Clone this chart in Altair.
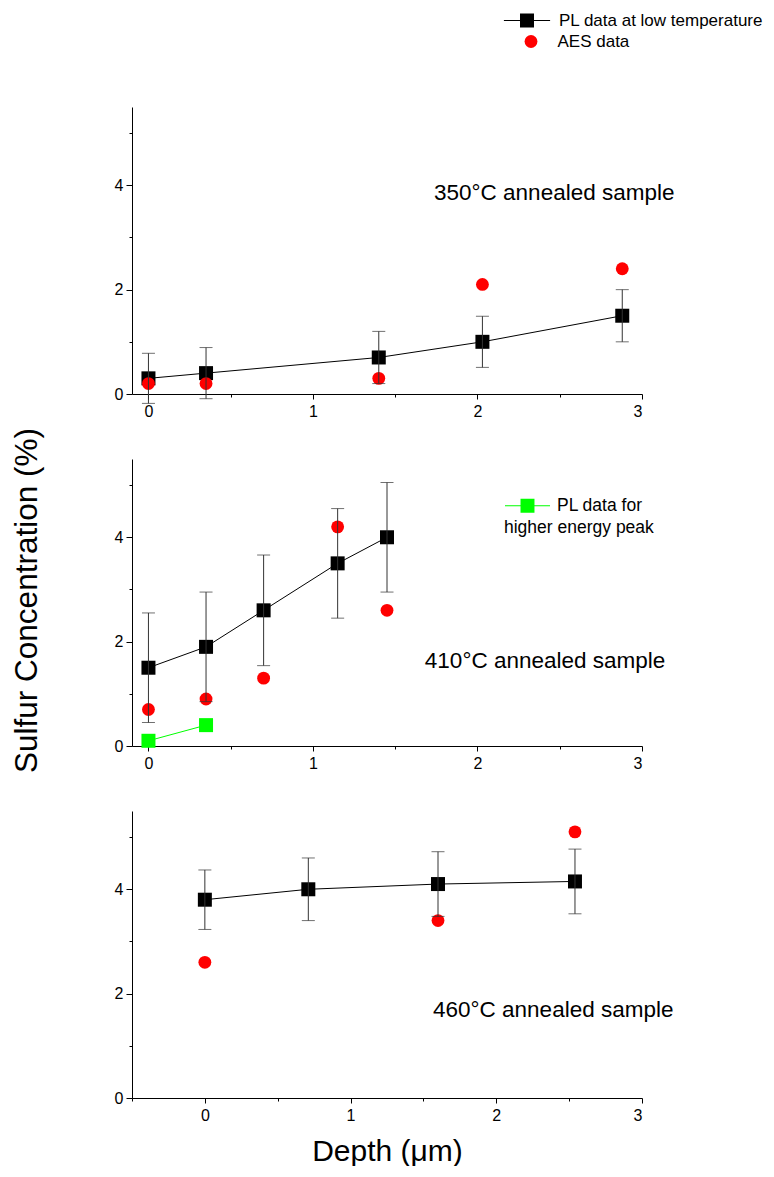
import altair as alt
import pandas as pd

FONT = "Liberation Sans"

PL_LABEL = "PL data at low temperature"
AES_LABEL = "AES data"
GREEN_LABEL = "PL data for"
GREEN_TITLE = "higher energy peak"
Y_TITLE = "Sulfur Concentration (%)"
X_TITLE = "Depth (\u03bcm)"

# Panel 1: 350 C annealed sample
p1_depth = [0.0, 0.35, 1.40, 2.03, 2.88]
p1_pl = [0.3, 0.4, 0.7, 1.0, 1.5]
p1_err = [0.48, 0.49, 0.50, 0.49, 0.50]
p1_aes = [0.2, 0.2, 0.3, 2.1, 2.4]

# Panel 2: 410 C annealed sample
p2_depth = [0.0, 0.35, 0.70, 1.15, 1.45]
p2_pl = [1.5, 1.9, 2.6, 3.5, 4.0]
p2_err = [1.05, 1.05, 1.06, 1.05, 1.05]
p2_aes = [0.7, 0.9, 1.3, 4.2, 2.6]
p2_hi_depth = [0.0, 0.35]
p2_hi_pl = [0.1, 0.4]

# Panel 3: 460 C annealed sample
p3_depth = [0.0, 0.71, 1.60, 2.54]
p3_pl = [3.8, 4.0, 4.1, 4.15]
p3_err = [0.57, 0.60, 0.62, 0.62]
p3_aes_depth = [0.0, 1.60, 2.54]
p3_aes = [2.6, 3.4, 5.1]

panel_labels = ["350\u00b0C annealed sample", "410\u00b0C annealed sample", "460\u00b0C annealed sample"]

x_major_1 = [0, 0.5, 1, 1.5, 2, 2.5, 3]
x_major_3 = [-0.5, 0, 0.5, 1, 1.5, 2, 2.5, 3]
y_ticks = [0, 1, 2, 3, 4, 5]

W, H = 510, 287

# legend symbols: line - square - line (drawn as filled shapes)
LINE_SQ = ("M-1.65,-0.04H-0.5V0.04H-1.65Z "
           "M-0.5,-0.5H0.5V0.5H-0.5Z "
           "M0.5,-0.04H1.65V0.04H0.5Z")
LINE_SQ_WIDE = ("M-1,-0.023H-0.31V0.023H-1Z "
                "M-0.31,-0.31H0.31V0.31H-0.31Z "
                "M0.31,-0.023H1V0.023H0.31Z")

axis_common = dict(
    grid=False,
    domainColor="black", domainWidth=1,
    tickColor="black", tickWidth=1,
    labelFont=FONT, labelFontSize=16, labelColor="black",
    titleFont=FONT, titleFontWeight="normal", titleColor="black",
)


def x_enc(field, domain_min, title=None):
    vals = x_major_3 if domain_min < -0.2 else x_major_1
    return alt.X(
        field + ":Q",
        scale=alt.Scale(domain=[domain_min, 3], nice=False, zero=False),
        axis=alt.Axis(
            values=vals,
            title=title,
            labelExpr="datum.value % 1 == 0 ? format(datum.value, 'd') : ''",
            tickSize={"condition": {"test": "datum.value % 1 == 0", "value": 5}, "value": 3},
            labelPadding=4,
            titlePadding=13,
            titleFontSize=30,
            **axis_common,
        ),
    )


def y_enc(field, title=None):
    extra = {}
    if title:
        extra = dict(titleX=-105, titleY=141, titleBaseline="middle", titleAlign="center")
    return alt.Y(
        field + ":Q",
        scale=alt.Scale(domain=[0, 5.5], nice=False, zero=False),
        axis=alt.Axis(
            values=y_ticks,
            title=title,
            labelExpr="datum.value % 2 == 0 ? format(datum.value, 'd') : ''",
            tickSize={"condition": {"test": "datum.value % 2 == 0", "value": 6}, "value": 3},
            labelPadding=3,
            titleFontSize=31.5,
            **extra,
            **axis_common,
        ),
    )


def panel(depth, pl, err, aes_depth, aes, label, lx, ly, xmin,
          legend_panel=False, green=None, ytitle=None, xtitle=None):
    df = pd.DataFrame({
        "depth": depth,
        "value": pl,
        "lo": [v - e for v, e in zip(pl, err)],
        "hi": [v + e for v, e in zip(pl, err)],
        "series": PL_LABEL,
    })
    dfa = pd.DataFrame({"depth": aes_depth, "value": aes, "series": AES_LABEL})
    dft = pd.DataFrame({"depth": [lx], "value": [ly], "text": [label]})

    X = lambda f="depth": x_enc(f, xmin, xtitle)
    Y = lambda f="value": y_enc(f, ytitle)

    layers = []
    layers.append(alt.Chart(df).mark_line(color="black", strokeWidth=1).encode(x=X(), y=Y()))

    if green is not None:
        gd, gv = green
        dfg = pd.DataFrame({"depth": gd, "value": gv, "series": GREEN_LABEL})
        layers.append(alt.Chart(dfg).mark_line(color="#00ff00", strokeWidth=1).encode(x=X(), y=Y()))
        layers.append(
            alt.Chart(dfg).mark_square(size=196, opacity=1, filled=True).encode(
                x=X(), y=Y(),
                color=alt.Color(
                    "series:N",
                    scale=alt.Scale(domain=[GREEN_LABEL], range=["#00ff00"]),
                    legend=alt.Legend(
                        orient="none", legendX=372, legendY=23.2, padding=0,
                        title=GREEN_TITLE, titleOrient="bottom", titleAnchor="start",
                        titleFont=FONT, titleFontSize=17.5, titleFontWeight="normal",
                        titleColor="black", titlePadding=5, titleLimit=400,
                        symbolType=LINE_SQ_WIDE, symbolSize=2025, labelOffset=6,
                        labelFont=FONT, labelFontSize=17.5, labelColor="black", labelLimit=400,
                    ),
                ),
            )
        )

    if legend_panel:
        sq_color = alt.Color(
            "series:N",
            scale=alt.Scale(domain=[PL_LABEL], range=["black"]),
            legend=alt.Legend(
                orient="none", legendX=380, legendY=-101.5, padding=0, title=None,
                symbolType=LINE_SQ, symbolSize=784, labelOffset=17,
                labelFont=FONT, labelFontSize=17, labelColor="black", labelLimit=400,
            ),
        )
        ci_color = alt.Color(
            "series:N",
            scale=alt.Scale(domain=[AES_LABEL], range=["#ff0000"]),
            legend=alt.Legend(
                orient="none", legendX=390.5, legendY=-74, padding=0, title=None,
                symbolType="circle", symbolSize=165, labelOffset=18,
                labelFont=FONT, labelFontSize=17, labelColor="black", labelLimit=400,
            ),
        )
        squares = alt.Chart(df).mark_square(size=196, opacity=1, filled=True).encode(x=X(), y=Y(), color=sq_color)
        circles = alt.Chart(dfa).mark_circle(size=165, opacity=1).encode(x=X(), y=Y(), color=ci_color)
    else:
        squares = alt.Chart(df).mark_square(size=196, opacity=1, filled=True, color="black").encode(x=X(), y=Y())
        circles = alt.Chart(dfa).mark_circle(size=165, opacity=1, color="#ff0000").encode(x=X(), y=Y())

    layers.append(squares)
    layers.append(circles)
    layers.append(alt.Chart(df).mark_rule(color="#333333", strokeWidth=1).encode(x=X(), y=Y("lo"), y2="hi:Q"))
    layers.append(alt.Chart(df).mark_tick(orient="horizontal", size=13, thickness=1, color="#333333").encode(x=X(), y=Y("lo")))
    layers.append(alt.Chart(df).mark_tick(orient="horizontal", size=13, thickness=1, color="#333333").encode(x=X(), y=Y("hi")))
    layers.append(
        alt.Chart(dft).mark_text(align="left", baseline="middle", font=FONT, fontSize=22.5, color="black").encode(
            x=X(), y=Y(), text="text:N"
        )
    )
    return alt.layer(*layers).resolve_scale(color="independent").properties(width=W, height=H)


c1 = panel(p1_depth, p1_pl, p1_err, p1_depth, p1_aes, panel_labels[0], 1.736, 3.85, -0.1, legend_panel=True)
c2 = panel(p2_depth, p2_pl, p2_err, p2_depth, p2_aes, panel_labels[1], 1.68, 1.62, -0.1,
           green=(p2_hi_depth, p2_hi_pl), ytitle=Y_TITLE)
c3 = panel(p3_depth, p3_pl, p3_err, p3_aes_depth, p3_aes, panel_labels[2], 1.566, 1.68, -0.5, xtitle=X_TITLE)

chart = (
    alt.vconcat(c1, c2, c3, spacing=65, bounds="flush")
    .resolve_scale(color="independent")
    .configure(padding={"left": 2, "top": -3, "right": 0, "bottom": 0}, background="white")
    .configure_view(stroke=None)
)

chart.save("out.html", embed_options={"renderer": "svg", "actions": False})
